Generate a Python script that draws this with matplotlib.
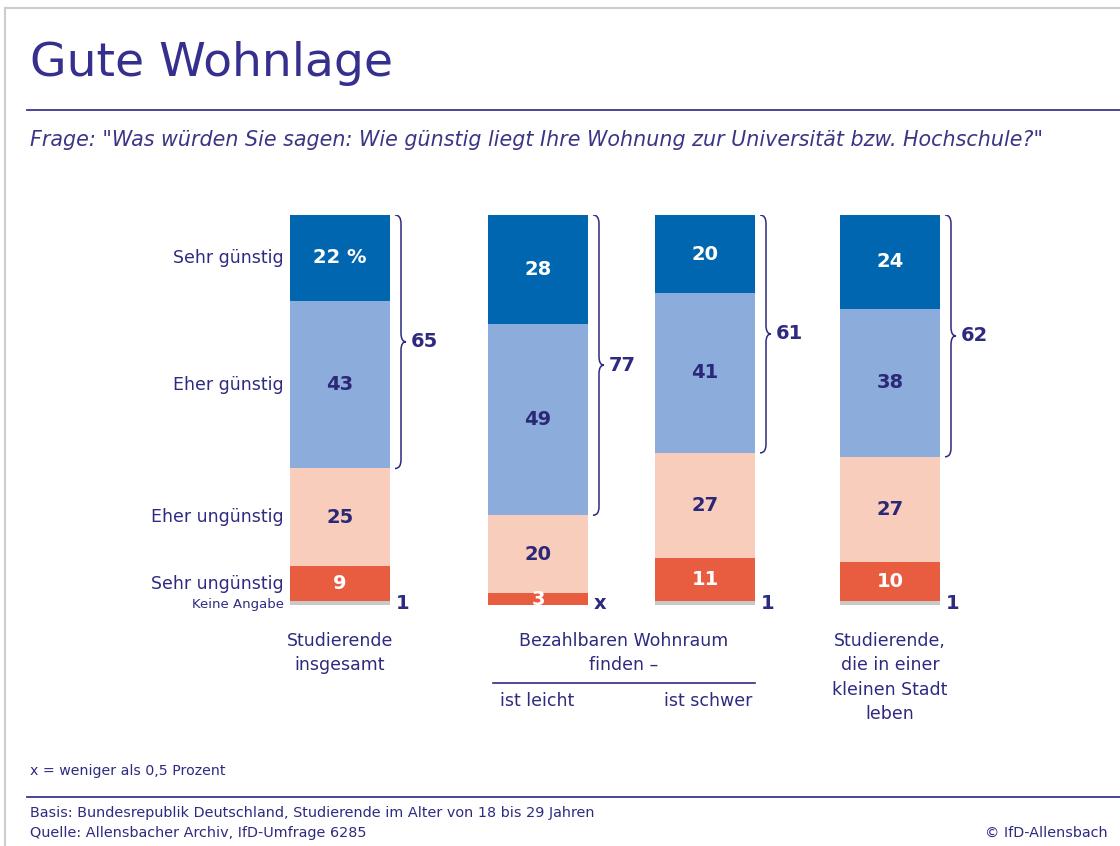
import matplotlib.pyplot as plt
import numpy as np
from matplotlib.path import Path
from matplotlib.patches import PathPatch
from matplotlib.lines import Line2D

# data
answers = ["Sehr günstig", "Eher günstig", "Eher ungünstig", "Sehr ungünstig", "Keine Angabe"]
insgesamt = [22, 43, 25, 9, 1]
leicht = [28, 49, 20, 3, 0]
schwer = [20, 41, 27, 11, 1]
kleinstadt = [24, 38, 27, 10, 1]
groups = [insgesamt, leicht, schwer, kleinstadt]
none_labels = ["1", "x", "1", "1"]
group_labels = ["Studierende\ninsgesamt", "", "", "Studierende,\ndie in einer\nkleinen Stadt\nleben"]

colors = ["#0066b0", "#8cacdb", "#f8cdbb", "#e85c40", "#c8c8c8"]
text_colors = ["white", "#2b2878", "#2b2878", "white"]
navy = "#2e2a80"

W, H = 1120, 846
fig = plt.figure(figsize=(W / 100, H / 100), dpi=100)

def fx(x):
    return x / W

def fy(y):
    return 1 - y / H

# frame lines
fig.add_artist(Line2D([fx(5), fx(5)], [fy(8), 0], color="#cccccc", lw=1.5))
fig.add_artist(Line2D([fx(5), 1], [fy(8), fy(8)], color="#cccccc", lw=1.5))

# title + question
fig.text(fx(30), fy(63), "Gute Wohnlage", fontsize=34, color="#352f8e", va="center")
fig.add_artist(Line2D([fx(27), 1], [fy(110), fy(110)], color="#3c3690", lw=1.3))
fig.text(fx(30), fy(140), 'Frage: "Was würden Sie sagen: Wie günstig liegt Ihre Wohnung zur Universität bzw. Hochschule?"',
         fontsize=14.9, style="italic", color="#3a3585", va="center")

# bars
ax = fig.add_axes([0, fy(605), 1, (605 - 215) / H])
ax.set_xlim(0, W)
ax.set_ylim(100, 0)
ax.axis("off")

centers = [340, 538, 705, 890]
bw = 100

for ci, (xc, vals) in enumerate(zip(centers, groups)):
    bottoms = np.concatenate([[0], np.cumsum(vals)[:-1]])
    ax.bar(xc, vals, bottom=bottoms, width=bw, color=colors, edgecolor="none", align="center")
    for k in range(4):
        txt = str(vals[k])
        if ci == 0 and k == 0:
            txt = f"{vals[k]} %"
        ax.text(xc, bottoms[k] + vals[k] / 2, txt, ha="center", va="center",
                fontsize=14, fontweight="bold", color=text_colors[k])
    # keine angabe
    ax.text(xc + bw / 2 + 6, 99.5, none_labels[ci], ha="left", va="center",
            fontsize=14, fontweight="bold", color=navy)
    # brace over the two positive answers
    top, bot = 0, vals[0] + vals[1]
    mid = (top + bot) / 2
    x0 = xc + bw / 2 + 5
    d = 2.2
    verts = [(x0, top), (x0 + 6, top), (x0 + 6, top + d),
             (x0 + 6, mid - d),
             (x0 + 6, mid), (x0 + 11, mid),
             (x0 + 6, mid), (x0 + 6, mid + d),
             (x0 + 6, bot - d),
             (x0 + 6, bot), (x0, bot)]
    codes = [Path.MOVETO, Path.CURVE3, Path.CURVE3, Path.LINETO,
             Path.CURVE3, Path.CURVE3, Path.CURVE3, Path.CURVE3,
             Path.LINETO, Path.CURVE3, Path.CURVE3]
    ax.add_patch(PathPatch(Path(verts, codes), fill=False, edgecolor=navy, lw=1.1))
    ax.text(x0 + 16, mid, str(vals[0] + vals[1]), ha="left", va="center",
            fontsize=14, fontweight="bold", color=navy)

# answer labels left of first bar
cum = np.concatenate([[0], np.cumsum(insgesamt)[:-1]])
for k, lab in enumerate(answers):
    y = cum[k] + insgesamt[k] / 2
    if k == 4:
        ax.text(284, y + 0.4, lab, ha="right", va="center", fontsize=9.5, color=navy)
    else:
        ax.text(284, y, lab, ha="right", va="center", fontsize=12.5, color=navy)

# group labels
lab_kw = dict(ha="center", va="top", fontsize=12.5, color=navy, linespacing=1.45)
fig.text(fx(centers[0]), fy(632), group_labels[0], **lab_kw)
fig.text(fx(centers[3]), fy(632), group_labels[3], **lab_kw)
fig.text(fx(624), fy(632), "Bezahlbaren Wohnraum\nfinden –", **lab_kw)
fig.add_artist(Line2D([fx(493), fx(755)], [fy(683), fy(683)], color=navy, lw=1.2))
fig.text(fx(537), fy(701), "ist leicht", ha="center", va="center", fontsize=12.5, color=navy)
fig.text(fx(708), fy(701), "ist schwer", ha="center", va="center", fontsize=12.5, color=navy)

# footer
fig.text(fx(30), fy(771), "x = weniger als 0,5 Prozent", fontsize=10.2, color=navy, va="center")
fig.add_artist(Line2D([fx(27), 1], [fy(797), fy(797)], color="#3c3690", lw=1.3))
fig.text(fx(30), fy(813), "Basis: Bundesrepublik Deutschland, Studierende im Alter von 18 bis 29 Jahren",
         fontsize=10.4, color=navy, va="center")
fig.text(fx(30), fy(833), "Quelle: Allensbacher Archiv, IfD-Umfrage 6285", fontsize=10.4, color=navy, va="center")
fig.text(fx(1108), fy(833), "© IfD-Allensbach", fontsize=10.4, color=navy, va="center", ha="right")

fig.savefig("out.png", dpi=100)
